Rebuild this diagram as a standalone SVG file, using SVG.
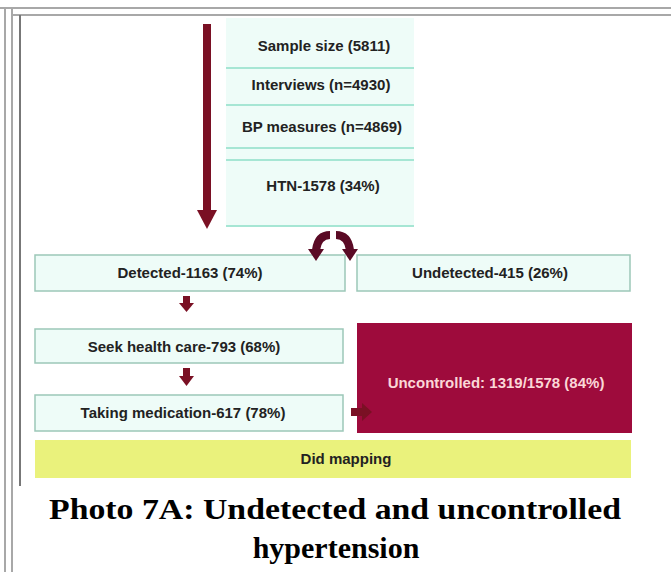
<svg xmlns="http://www.w3.org/2000/svg" width="671" height="572" viewBox="0 0 671 572">
<defs>
<style>
.frame{fill:none;stroke:#a8a8a8;stroke-width:2}
.col{fill:#eefcf8}
.sep{stroke:#a6e6d4;stroke-width:2}
.box{fill:#eefcf8;stroke:#9cc7b8;stroke-width:1.5}
.t{font-family:"Liberation Sans",Arial,sans-serif;font-size:15px;font-weight:bold;fill:#222;text-anchor:middle}
.tw{font-family:"Liberation Sans",Arial,sans-serif;font-size:15px;font-weight:bold;fill:#fbd7d7;text-anchor:middle}
.cap{font-family:"Liberation Serif","Times New Roman",serif;font-size:30px;font-weight:bold;fill:#000;text-anchor:middle}
.arr{fill:#7a1024}
.crv{fill:none;stroke:#5a0a25;stroke-width:8}
.crh{fill:#5a0a25}
</style>
</defs>
<rect width="671" height="572" fill="#ffffff"/>
<g id="frame">
<line x1="0" y1="8" x2="671" y2="8" class="frame"/>
<line x1="5" y1="8" x2="5" y2="572" class="frame"/>
<line x1="12" y1="8" x2="12" y2="572" class="frame"/>
<line x1="12" y1="15" x2="671" y2="15" class="frame"/>
<line x1="20" y1="15" x2="20" y2="486" stroke="#777" stroke-width="2"/>
</g>
<g id="column">
<rect x="226" y="18" width="188" height="208" class="col"/>
<line x1="226" y1="68" x2="414" y2="68" class="sep"/>
<line x1="226" y1="105" x2="414" y2="105" class="sep"/>
<line x1="226" y1="148" x2="414" y2="148" class="sep"/>
<line x1="226" y1="160" x2="414" y2="160" class="sep"/>
<line x1="226" y1="226" x2="414" y2="226" class="sep"/>
</g>
<g id="n-sample"><text x="324" y="51" class="t">Sample size (5811)</text></g>
<g id="n-interviews"><text x="321" y="90" class="t">Interviews (n=4930)</text></g>
<g id="n-bp"><text x="322" y="132" class="t">BP measures (n=4869)</text></g>
<g id="n-htn"><text x="323" y="191" class="t">HTN-1578 (34%)</text></g>
<g id="n-detected">
<rect x="35" y="255" width="310" height="36" class="box"/>
<text x="190" y="278" class="t">Detected-1163 (74%)</text>
</g>
<g id="n-undetected">
<rect x="357" y="255" width="273" height="36" class="box"/>
<text x="490" y="278" class="t">Undetected-415 (26%)</text>
</g>
<g id="n-seek">
<rect x="35" y="329" width="308" height="34" class="box"/>
<text x="184" y="352" class="t">Seek health care-793 (68%)</text>
</g>
<g id="n-taking">
<rect x="35" y="395" width="308" height="36" class="box"/>
<text x="183" y="418" class="t">Taking medication-617 (78%)</text>
</g>
<g id="n-uncontrolled">
<rect x="357" y="323" width="275" height="110" fill="#9e0b3c"/>
<text x="496" y="388" class="tw">Uncontrolled: 1319/1578 (84%)</text>
</g>
<g id="n-bottom">
<rect x="35" y="440" width="596" height="38" fill="#eaf27c"/>
<text x="346" y="464" class="t">Did mapping</text>
</g>
<g id="connectors">
<rect x="203" y="24" width="8" height="188" class="arr"/>
<path d="M197,210 L217,210 L207,229 z" class="arr"/>
<path d="M330,235 Q318,235 316,250" class="crv"/>
<path d="M308,249 L324,249 L316,261 z" class="crh"/>
<path d="M336,235 Q348,235 350,250" class="crv"/>
<path d="M342,249 L358,249 L350,261 z" class="crh"/>
<rect x="183" y="296" width="7" height="8" class="arr"/>
<path d="M179,303 L194,303 L186.5,312 z" class="arr"/>
<rect x="183" y="368" width="7" height="9" class="arr"/>
<path d="M179,376 L194,376 L186.5,386 z" class="arr"/>
<rect x="351" y="408" width="12" height="8" class="arr"/>
<path d="M362,403 L372,412 L362,421 z" class="arr"/>
</g>
<g id="caption">
<text x="335" y="519" class="cap" textLength="572" lengthAdjust="spacingAndGlyphs">Photo 7A: Undetected and uncontrolled</text>
<text x="336" y="558" class="cap">hypertension</text>
</g>
</svg>
